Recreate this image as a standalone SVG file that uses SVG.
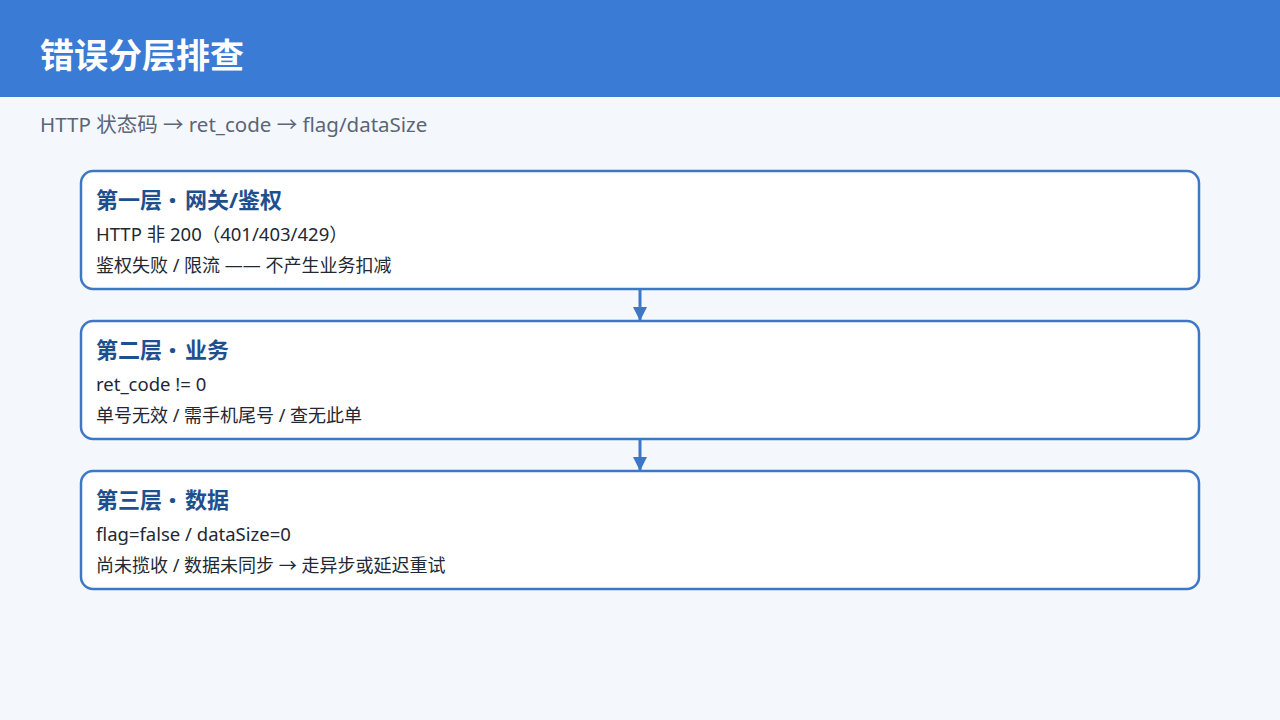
<svg xmlns="http://www.w3.org/2000/svg" width="1280" height="720" viewBox="0 0 1280 720">
<defs>
<style>
.box{fill:#ffffff;stroke:#3d78c6;stroke-width:2.5}
.ttl{font-family:"Noto Sans","Noto Sans CJK SC",sans-serif;font-weight:700;font-size:22px;fill:#1e4f8f}
.dot{font-size:26px;font-weight:900}
.l1{font-family:"Noto Sans","Noto Sans CJK SC",sans-serif;font-size:18.5px;fill:#222833}
.l2{font-family:"Noto Sans","Noto Sans CJK SC",sans-serif;font-size:18px;fill:#222833}
.con{stroke:#3d78c6;stroke-width:3;fill:none}
</style>
<marker id="ah" markerWidth="14" markerHeight="14" refX="14" refY="7" orient="auto" markerUnits="userSpaceOnUse" viewBox="0 0 14 14">
<path d="M0,0 L14,7 L0,14 Z" fill="#3d78c6"/>
</marker>
</defs>
<rect x="0" y="0" width="1280" height="720" fill="#f4f8fd"/>
<rect x="0" y="0" width="1280" height="97" fill="#3a7bd5"/>
<text x="40" y="68" font-family="'Noto Sans CJK SC','Noto Sans',sans-serif" font-weight="700" font-size="34" fill="#ffffff">错误分层排查</text>
<text x="40" y="132" font-family="'Noto Sans','Noto Sans CJK SC',sans-serif" font-size="20.5" fill="#5b6577">HTTP 状态码 → ret_code → flag/dataSize</text>
<g id="connectors">
<line class="con" x1="640" y1="290" x2="640" y2="321" marker-end="url(#ah)"/>
<line class="con" x1="640" y1="440" x2="640" y2="471" marker-end="url(#ah)"/>
</g>
<g id="layer1">
<rect class="box" x="81" y="171" width="1118" height="118" rx="12"/>
<text class="ttl" x="96" y="208">第一层 <tspan class="dot" dx="1" dy="2">·</tspan><tspan dx="3" dy="-2"> 网关/鉴权</tspan></text>
<text class="l1" x="96" y="241">HTTP 非 200（401/403/429）</text>
<text class="l2" x="96" y="272">鉴权失败 / 限流 —— 不产生业务扣减</text>
</g>
<g id="layer2">
<rect class="box" x="81" y="321" width="1118" height="118" rx="12"/>
<text class="ttl" x="96" y="358">第二层 <tspan class="dot" dx="1" dy="2">·</tspan><tspan dx="3" dy="-2"> 业务</tspan></text>
<text class="l1" x="96" y="391">ret_code != 0</text>
<text class="l2" x="96" y="422">单号无效 / 需手机尾号 / 查无此单</text>
</g>
<g id="layer3">
<rect class="box" x="81" y="471" width="1118" height="118" rx="12"/>
<text class="ttl" x="96" y="508">第三层 <tspan class="dot" dx="1" dy="2">·</tspan><tspan dx="3" dy="-2"> 数据</tspan></text>
<text class="l1" x="96" y="541">flag=false / dataSize=0</text>
<text class="l2" x="96" y="572">尚未揽收 / 数据未同步 → 走异步或延迟重试</text>
</g>
</svg>
